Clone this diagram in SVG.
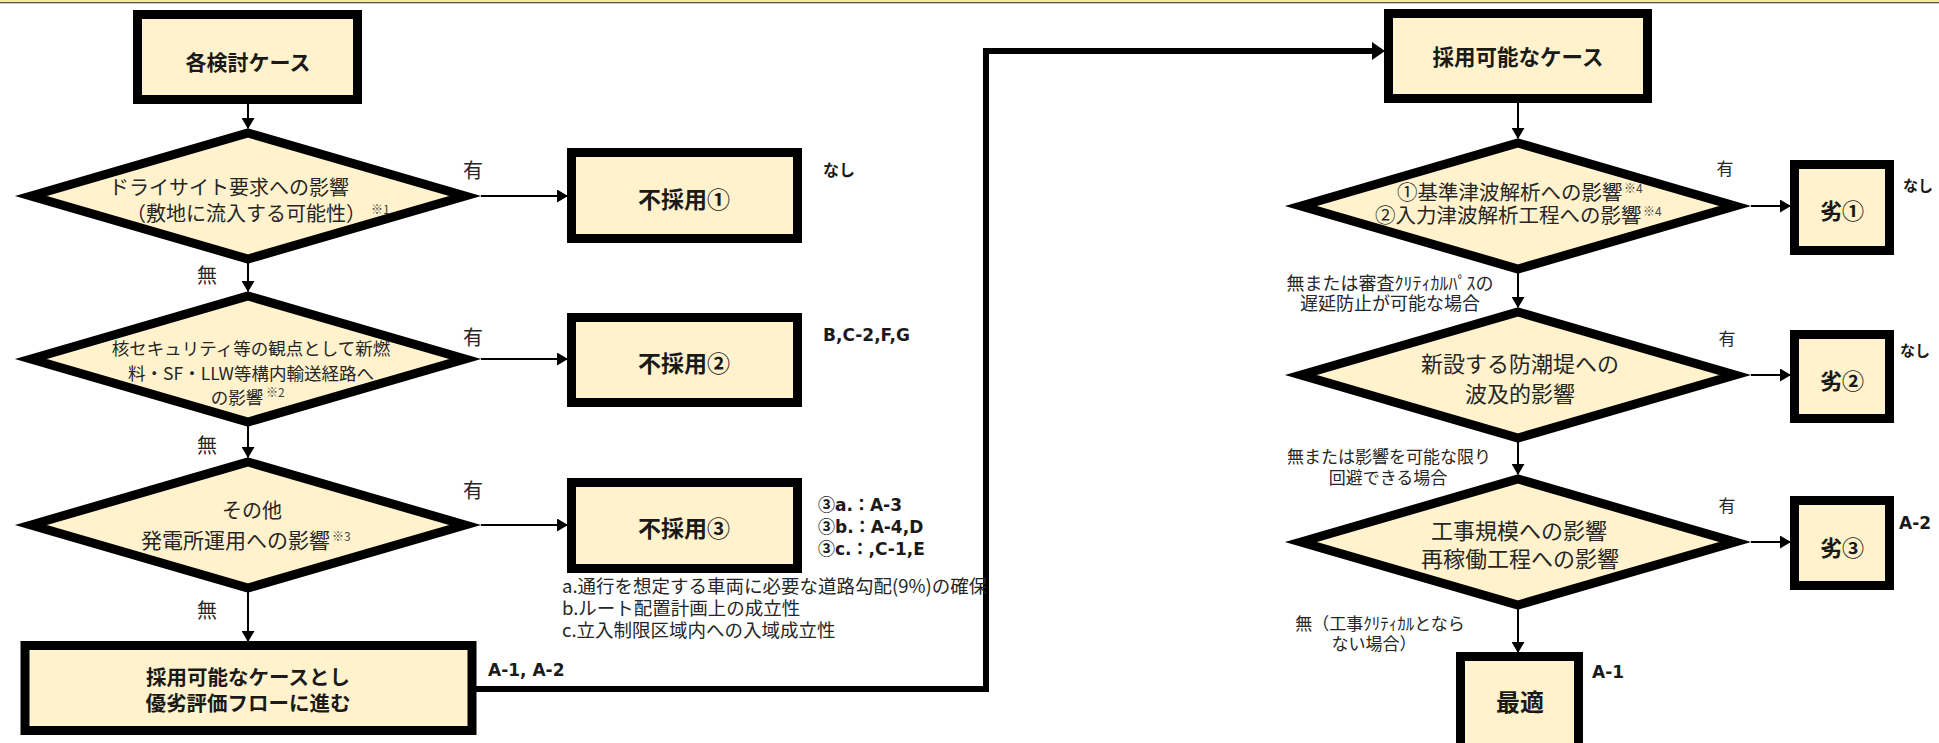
<svg xmlns="http://www.w3.org/2000/svg" width="1939" height="743" viewBox="0 0 1939 743">
<style>
.box{fill:#FFF2CC;stroke:#000;stroke-width:9}
.dia{fill:#FFF2CC;stroke:#000;stroke-width:9;stroke-linejoin:miter;stroke-miterlimit:6}
.ln{fill:none;stroke:#000;stroke-width:2}
.thick{fill:none;stroke:#000;stroke-width:6}
.t{font-family:"Noto Sans CJK JP",sans-serif;fill:#262626}
.b{font-family:"Noto Sans CJK JP",sans-serif;font-weight:bold;fill:#1a1a1a}
.lat{font-family:"DejaVu Sans","Noto Sans CJK JP",sans-serif;font-weight:bold;fill:#1a1a1a;font-size:17px}
.cj{font-family:"Noto Sans CJK JP",sans-serif;font-weight:bold}
.m{text-anchor:middle}
.sup{font-family:"Noto Sans CJK JP",sans-serif;fill:#444;font-size:12px}
</style>
<defs>
<marker id="arr" markerWidth="11" markerHeight="13" refX="10" refY="6.5" orient="auto" markerUnits="userSpaceOnUse"><path d="M0,0L11,6.5L0,13z" fill="#000"/></marker>
<marker id="arrB" markerWidth="13" markerHeight="18" refX="0" refY="9" orient="auto" markerUnits="userSpaceOnUse"><path d="M0,0L13,9L0,18z" fill="#000"/></marker>
</defs>
<rect x="0" y="0" width="1939" height="2" fill="#F6EA9A"/>
<rect x="0" y="2" width="1939" height="1.3" fill="#555"/>

<g id="connectors">
<path class="ln" d="M248,104V128" marker-end="url(#arr)"/>
<path class="ln" d="M248,263V291" marker-end="url(#arr)"/>
<path class="ln" d="M248,426V457" marker-end="url(#arr)"/>
<path class="ln" d="M248,592V641" marker-end="url(#arr)"/>
<path class="ln" d="M481,196H567" marker-end="url(#arr)"/>
<path class="ln" d="M481,359H567" marker-end="url(#arr)"/>
<path class="ln" d="M481,525H567" marker-end="url(#arr)"/>
<path class="thick" d="M476,689H986V51H1372" marker-end="url(#arrB)"/>
<path class="ln" d="M1518,103V138" marker-end="url(#arr)"/>
<path class="ln" d="M1751,206H1790" marker-end="url(#arr)"/>
<path class="ln" d="M1518,273V307" marker-end="url(#arr)"/>
<path class="ln" d="M1751,375H1790" marker-end="url(#arr)"/>
<path class="ln" d="M1518,442V474" marker-end="url(#arr)"/>
<path class="ln" d="M1751,542H1790" marker-end="url(#arr)"/>
<path class="ln" d="M1518,609V652" marker-end="url(#arr)"/>
</g>

<g id="start">
<rect class="box" x="137.5" y="14.5" width="220" height="85"/>
<text class="b m" x="248" y="70" font-size="21">各検討ケース</text>
</g>

<g id="d1">
<polygon class="dia" points="31,196 248,133 465,196 248,259"/>
<text class="t m" x="229" y="194.5" font-size="20">ドライサイト要求への影響</text>
<text class="t m" x="246" y="220.5" font-size="20">（敷地に流入する可能性）</text>
<text class="sup" x="371" y="214">※1</text>
</g>
<text class="t m" x="473" y="177.5" font-size="20">有</text>
<text class="t m" x="207" y="282.5" font-size="20">無</text>

<g id="d2">
<polygon class="dia" points="31,359 248,296 465,359 248,422"/>
<text class="t m" x="251" y="354.5" font-size="17.5">核セキュリティ等の観点として新燃</text>
<text class="t m" x="251" y="379.5" font-size="17.5">料・SF・LLW等構内輸送経路へ</text>
<text class="t m" x="237" y="403.5" font-size="17.5">の影響</text>
<text class="sup" x="266" y="397">※2</text>
</g>
<text class="t m" x="473" y="344.5" font-size="20">有</text>
<text class="t m" x="207" y="452.5" font-size="20">無</text>

<g id="d3">
<polygon class="dia" points="31,525 248,462 465,525 248,588"/>
<text class="t m" x="252" y="517.5" font-size="20">その他</text>
<text class="t" x="141" y="548" font-size="21">発電所運用への影響</text>
<text class="sup" x="332" y="541">※3</text>
</g>
<text class="t m" x="473" y="497.5" font-size="20">有</text>
<text class="t m" x="207" y="617.5" font-size="20">無</text>

<g id="reject1">
<rect class="box" x="571.5" y="152.5" width="226" height="86"/>
<text class="b m" x="684" y="207.5" font-size="23">不採用①</text>
</g>
<text class="b" x="823" y="176" font-size="16">なし</text>

<g id="reject2">
<rect class="box" x="571.5" y="317.5" width="226" height="85"/>
<text class="b m" x="684" y="371.5" font-size="23">不採用②</text>
</g>
<text class="lat" x="823" y="341">B,C-2,F,G</text>

<g id="reject3">
<rect class="box" x="571.5" y="482.5" width="226" height="86"/>
<text class="b m" x="684" y="536.5" font-size="23">不採用③</text>
</g>
<text class="lat" x="818" y="511"><tspan class="cj">③</tspan>a.：A-3</text>
<text class="lat" x="818" y="533"><tspan class="cj">③</tspan>b.：A-4,D</text>
<text class="lat" x="818" y="555"><tspan class="cj">③</tspan>c.：,C-1,E</text>
<text class="t" x="562" y="593" font-size="18.5">a.通行を想定する車両に必要な道路勾配(9%)の確保</text>
<text class="t" x="562" y="615" font-size="18.5">b.ルート配置計画上の成立性</text>
<text class="t" x="562" y="637" font-size="18.5">c.立入制限区域内への入域成立性</text>

<g id="proceed">
<rect class="box" x="25" y="645.5" width="447" height="85"/>
<text class="b m" x="248" y="685" font-size="20.5">採用可能なケースとし</text>
<text class="b m" x="248" y="711" font-size="20.5">優劣評価フローに進む</text>
</g>
<text class="lat" x="488" y="676">A-1, A-2</text>

<g id="adoptable">
<rect class="box" x="1388.5" y="13.5" width="259" height="85"/>
<text class="b m" x="1518" y="65" font-size="21.5">採用可能なケース</text>
</g>

<g id="d4">
<polygon class="dia" points="1301,206 1518,143 1735,206 1518,269"/>
<text class="t" x="1397" y="200" font-size="20.5">①基準津波解析への影響</text>
<text class="sup" x="1624" y="193">※4</text>
<text class="t" x="1375" y="223" font-size="20.5">②入力津波解析工程への影響</text>
<text class="sup" x="1643" y="216">※4</text>
</g>
<text class="t m" x="1725" y="174.5" font-size="17">有</text>
<text class="t m" x="1390" y="289.5" font-size="18">無または審査ｸﾘﾃｨｶﾙﾊﾟｽの</text>
<text class="t m" x="1390" y="310" font-size="18">遅延防止が可能な場合</text>

<g id="d5">
<polygon class="dia" points="1301,375 1518,312 1735,375 1518,438"/>
<text class="t m" x="1520" y="371.5" font-size="22">新設する防潮堤への</text>
<text class="t m" x="1520" y="401.5" font-size="22">波及的影響</text>
</g>
<text class="t m" x="1727" y="344.5" font-size="17">有</text>
<text class="t m" x="1389" y="462.5" font-size="17">無または影響を可能な限り</text>
<text class="t m" x="1388" y="483.5" font-size="17">回避できる場合</text>

<g id="d6">
<polygon class="dia" points="1301,542 1518,479 1735,542 1518,605"/>
<text class="t m" x="1519" y="538.5" font-size="22">工事規模への影響</text>
<text class="t m" x="1520" y="566.5" font-size="22">再稼働工程への影響</text>
</g>
<text class="t m" x="1727" y="511.5" font-size="17">有</text>
<text class="t m" x="1380" y="629.5" font-size="17">無（工事ｸﾘﾃｨｶﾙとなら</text>
<text class="t m" x="1374" y="649.5" font-size="17">ない場合）</text>

<g id="worse1">
<rect class="box" x="1794.5" y="164.5" width="95" height="86"/>
<text class="b m" x="1842" y="218.5" font-size="22">劣①</text>
</g>
<text class="b" x="1903" y="191" font-size="15">なし</text>

<g id="worse2">
<rect class="box" x="1794.5" y="334.5" width="95" height="84"/>
<text class="b m" x="1842" y="388.5" font-size="22">劣②</text>
</g>
<text class="b" x="1900" y="356" font-size="15">なし</text>

<g id="worse3">
<rect class="box" x="1794.5" y="500.5" width="95" height="85"/>
<text class="b m" x="1842" y="555.5" font-size="22">劣③</text>
</g>
<text class="lat" x="1899" y="529">A-2</text>

<g id="optimal">
<rect class="box" x="1460.5" y="656.5" width="118" height="100"/>
<text class="b m" x="1520" y="711" font-size="24">最適</text>
</g>
<text class="lat" x="1592" y="678">A-1</text>
</svg>
